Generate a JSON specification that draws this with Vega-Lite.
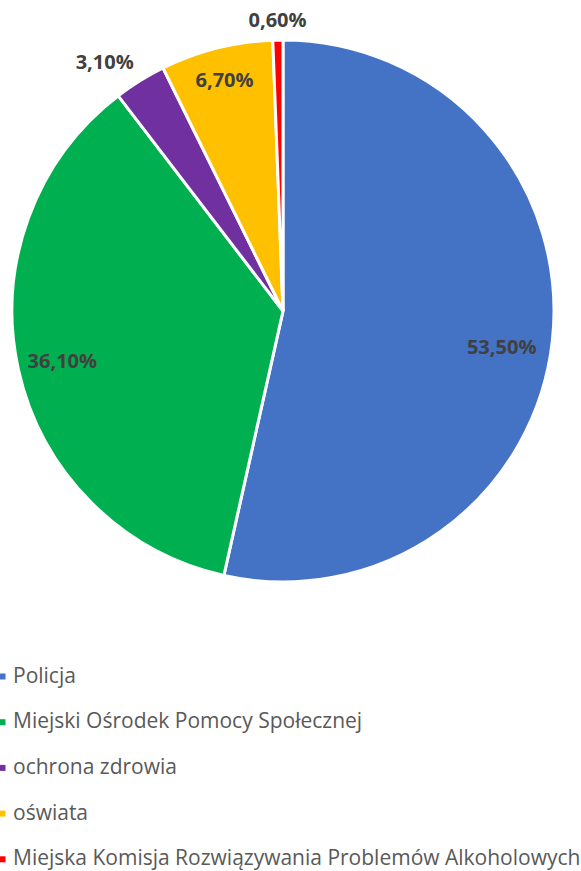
{
  "$schema": "https://vega.github.io/schema/vega-lite/v6.json",
  "width": 566,
  "height": 622,
  "autosize": {"type": "none"},
  "padding": {"left": 0, "top": 0, "right": 15, "bottom": 249},
  "background": "white",
  "data": {
    "values": [
      {"cat": "Policja", "value": 53.5, "label": "53,50%", "ord": 1},
      {"cat": "Miejski Ośrodek Pomocy Społecznej", "value": 36.1, "label": "36,10%", "ord": 2},
      {"cat": "ochrona zdrowia", "value": 3.1, "label": "3,10%", "ord": 3},
      {"cat": "oświata", "value": 6.7, "label": "6,70%", "ord": 4},
      {"cat": "Miejska Komisja Rozwiązywania Problemów Alkoholowych", "value": 0.6, "label": "0,60%", "ord": 5}
    ]
  },
  "encoding": {
    "theta": {"field": "value", "type": "quantitative", "stack": true},
    "order": {"field": "ord", "type": "quantitative"}
  },
  "layer": [
    {
      "mark": {"type": "arc", "outerRadius": 271, "stroke": "white", "strokeWidth": 3},
      "encoding": {
        "color": {
          "field": "cat",
          "type": "nominal",
          "scale": {
            "domain": ["Policja", "Miejski Ośrodek Pomocy Społecznej", "ochrona zdrowia", "oświata", "Miejska Komisja Rozwiązywania Problemów Alkoholowych"],
            "range": ["#4472C4", "#00B050", "#7030A0", "#FFC000", "#FF0000"]
          },
          "sort": null,
          "legend": {
            "title": null,
            "orient": "none",
            "legendX": -8,
            "legendY": 666,
            "padding": 0,
            "symbolType": "square",
            "symbolSize": 36,
            "symbolStrokeWidth": 0,
            "labelFont": "Open Sans",
            "labelFontSize": 21,
            "labelColor": "#595959",
            "labelOffset": 0,
            "labelLimit": 1000,
            "rowPadding": 23.7
          }
        }
      }
    },
    {
      "mark": {"type": "text", "radius": 221, "dx": -1, "dy": 13, "font": "Open Sans", "fontSize": 20, "fontWeight": "bold", "fill": "#404040"},
      "encoding": {"text": {"condition": {"test": "datum.cat === 'Policja'", "field": "label"}, "value": ""}}
    },
    {
      "mark": {"type": "text", "radius": 226, "dy": 2, "font": "Open Sans", "fontSize": 20, "fontWeight": "bold", "fill": "#404040"},
      "encoding": {"text": {"condition": {"test": "datum.cat === 'Miejski Ośrodek Pomocy Społecznej'", "field": "label"}, "value": ""}}
    },
    {
      "mark": {"type": "text", "radius": 300, "dx": -20, "dy": 7, "font": "Open Sans", "fontSize": 20, "fontWeight": "bold", "fill": "#404040"},
      "encoding": {"text": {"condition": {"test": "datum.cat === 'ochrona zdrowia'", "field": "label"}, "value": ""}}
    },
    {
      "mark": {"type": "text", "radius": 242, "dx": 1, "dy": 5, "font": "Open Sans", "fontSize": 20, "fontWeight": "bold", "fill": "#404040"},
      "encoding": {"text": {"condition": {"test": "datum.cat === 'oświata'", "field": "label"}, "value": ""}}
    },
    {
      "mark": {"type": "text", "radius": 291, "dy": 1, "font": "Open Sans", "fontSize": 20, "fontWeight": "bold", "fill": "#404040"},
      "encoding": {"text": {"condition": {"test": "datum.cat === 'Miejska Komisja Rozwiązywania Problemów Alkoholowych'", "field": "label"}, "value": ""}}
    }
  ],
  "config": {"view": {"stroke": null}}
}
